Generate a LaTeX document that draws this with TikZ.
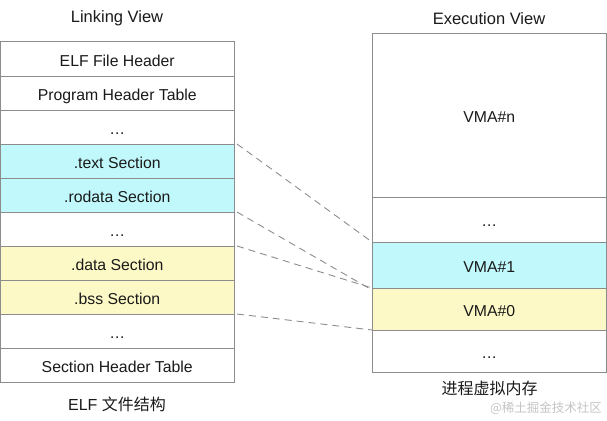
\documentclass[tikz,border=0pt]{standalone}
\usepackage{fontspec}
\setmainfont{Liberation Sans}
\newfontfamily\cjk{Noto Sans CJK SC}
\definecolor{boxline}{HTML}{8C8C8C}
\definecolor{cyanfill}{HTML}{C0F8FB}
\definecolor{yellowfill}{HTML}{FDF9C6}
\definecolor{txt}{HTML}{1A1A1A}
\definecolor{wm}{HTML}{C4C4C4}
\tikzset{
  row/.style={draw=boxline, line width=1pt, fill=white, minimum width=233.5pt, minimum height=34pt, inner sep=0pt, outer sep=0pt, font=\fontsize{15.8}{18}\selectfont, text height=15pt, text depth=0.7pt, text=txt, anchor=center},
  vrow/.style={row, minimum width=234.5pt},
  cyanrow/.style={fill=cyanfill},
  yellowrow/.style={fill=yellowfill},
  link/.style={draw=boxline, line width=0.9pt, dash pattern=on 7pt off 5pt},
  title/.style={font=\fontsize{16.5}{19}\selectfont, text=txt, inner sep=0pt},
  caption/.style={font=\fontsize{16}{19}\selectfont, text=txt, inner sep=0pt},
}
\begin{document}
\begin{tikzpicture}[x=1pt,y=-1pt]
\useasboundingbox (0,0) rectangle (607,420);
\node[title] (lt) at (117,18.5) {Linking View};
\node[title] (et) at (489,18.5) {Execution View};
% left column
\node[row] (hdr) at (117.25,59) {ELF File Header};
\node[row] (pht) at (117.25,93) {Program Header Table};
\node[row] (d1) at (117.25,127) {…};
\node[row,cyanrow] (text) at (117.25,161) {.text Section};
\node[row,cyanrow] (rodata) at (117.25,195) {.rodata Section};
\node[row] (d2) at (117.25,229) {…};
\node[row,yellowrow] (data) at (117.25,263) {.data Section};
\node[row,yellowrow] (bss) at (117.25,297) {.bss Section};
\node[row] (d3) at (117.25,331) {…};
\node[row] (sht) at (117.25,365) {Section Header Table};
% right column
\node[vrow, minimum height=163pt] (vman) at (489.25,115.5) {VMA\#n};
\node[vrow, minimum height=45pt] (vd1) at (489.25,219.5) {…};
\node[vrow,cyanrow, minimum height=46pt] (vma1) at (489.25,265) {VMA\#1};
\node[vrow,yellowrow, minimum height=42pt] (vma0) at (489.25,309) {VMA\#0};
\node[vrow, minimum height=42pt] (vd2) at (489.25,351) {…};
% captions
\node[caption] (lc) at (117,404) {ELF {\cjk 文件结构}};
\node[caption] (rc) at (489.5,388) {\cjk 进程虚拟内存};
\node[font=\fontsize{12.5}{14}\cjk, text=wm, inner sep=0pt] (wmk) at (546,408) {@稀土掘金技术社区};
% links
\draw[link] ([xshift=3pt]text.north east) -- (vma1.north west);
\draw[link] ([xshift=3pt]rodata.south east) -- ([yshift=-2pt]vma1.south west);
\draw[link] ([xshift=3pt]data.north east) -- (vma0.north west);
\draw[link] ([xshift=3pt]bss.south east) -- (vma0.south west);
\end{tikzpicture}
\end{document}
